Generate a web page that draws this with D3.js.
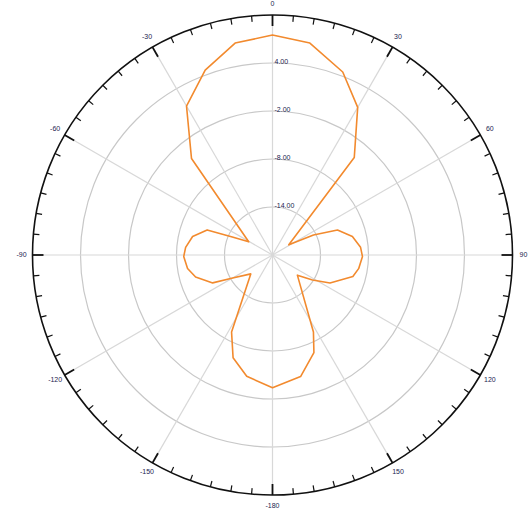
<!doctype html>
<html>
<head>
<script src="https://d3js.org/d3.v7.min.js"></script>
<style>
  body { margin: 0; background: #fff; }
  text { font-family: "Liberation Sans", Arial, sans-serif; font-size: 7px; fill: #1c2450; }
</style>
</head>
<body>
<svg width="528" height="516"></svg>
<script>
// pattern: angle in degrees (clockwise from top), gain in dB
var angles = [-168, -159, -152, -131, -120, -115, -106, -99, -91, -85, -77, -69, -66, -61,
              -40, -30, -20, -10, 0, 10, 21, 30, 40,
              58, 64, 69, 77, 85, 91, 99, 105, 116, 122, 129, 152, 157, 167, 180];
var gain = [-4.5, -6.25, -9.1, -16.4, -14.25, -11.75, -10, -9.25, -8.9, -9.1, -9.75, -11.25, -14.5, -16.6,
            -4.25, 1.5, 4.6, 6.9, 7.5, 6.9, 4.5, 1.3, -4.1,
            -17.6, -14.3, -11.3, -9.75, -8.95, -8.75, -9.1, -9.6, -12, -14.1, -16, -9.1, -6.75, -4.4, -3.4];

var rings = [-14, -8, -2, 4];
var ringLabels = ["-14.00", "-8.00", "-2.00", "4.00"];
var spokes = [0, 30, 60, 90, 120, 150, 180, 210, 240, 270, 300, 330];
var spokeLabels = ["0", "30", "60", "90", "120", "150", "-180", "-150", "-120", "-90", "-60", "-30"];

var svg = d3.select("svg"),
    cx = 272.5, cy = 255, R = 240;

var r = d3.scaleLinear().domain([-20, 10]).range([0, R]);

var g = svg.append("g").attr("transform", "translate(" + cx + "," + cy + ")");

function px(a, rad) { return rad * Math.sin(a * Math.PI / 180); }
function py(a, rad) { return -rad * Math.cos(a * Math.PI / 180); }

// grid circles
g.selectAll(".ring").data(rings).enter().append("circle")
  .attr("r", function(d) { return r(d); })
  .style("fill", "none").style("stroke", "#c8c8c8").style("stroke-width", 1.2);

// spokes
g.selectAll(".spoke").data(spokes).enter().append("line")
  .attr("x1", 0).attr("y1", 0)
  .attr("x2", function(d) { return px(d, R); })
  .attr("y2", function(d) { return py(d, R); })
  .style("stroke", "#d8d8d8").style("stroke-width", 1.2);

// pattern line
var line = d3.lineRadial()
  .angle(function(d) { return d[0] * Math.PI / 180; })
  .radius(function(d) { return r(d[1]); })
  .curve(d3.curveLinearClosed);

g.append("path")
  .datum(angles.map(function(a, i) { return [a, gain[i]]; }))
  .attr("d", line)
  .style("fill", "none")
  .style("stroke", "#f28a2e")
  .style("stroke-width", 1.6)
  .style("stroke-linejoin", "round");

// outer circle and ticks
g.append("circle").attr("r", R)
  .style("fill", "none").style("stroke", "#111").style("stroke-width", 1.6);

var ticks = d3.range(0, 360, 5);
g.selectAll(".tick").data(ticks).enter().append("line")
  .attr("x1", function(d) { return px(d, R); })
  .attr("y1", function(d) { return py(d, R); })
  .attr("x2", function(d) { return px(d, R - (d % 30 === 0 ? 11 : 6)); })
  .attr("y2", function(d) { return py(d, R - (d % 30 === 0 ? 11 : 6)); })
  .style("stroke", "#111").style("stroke-width", function(d) { return d % 30 === 0 ? 1.8 : 1.2; });

// angle labels
g.selectAll(".alab").data(spokes).enter().append("text")
  .attr("x", function(d) { return px(d, 251); })
  .attr("y", function(d) { return py(d, 251); })
  .attr("text-anchor", "middle")
  .attr("dominant-baseline", "middle")
  .text(function(d, i) { return spokeLabels[i]; });

// ring labels
g.selectAll(".rlab").data(rings).enter().append("text")
  .attr("x", 2)
  .attr("y", function(d) { return -r(d) - 1; })
  .attr("dominant-baseline", "middle")
  .text(function(d, i) { return ringLabels[i]; });
</script>
</body>
</html>
